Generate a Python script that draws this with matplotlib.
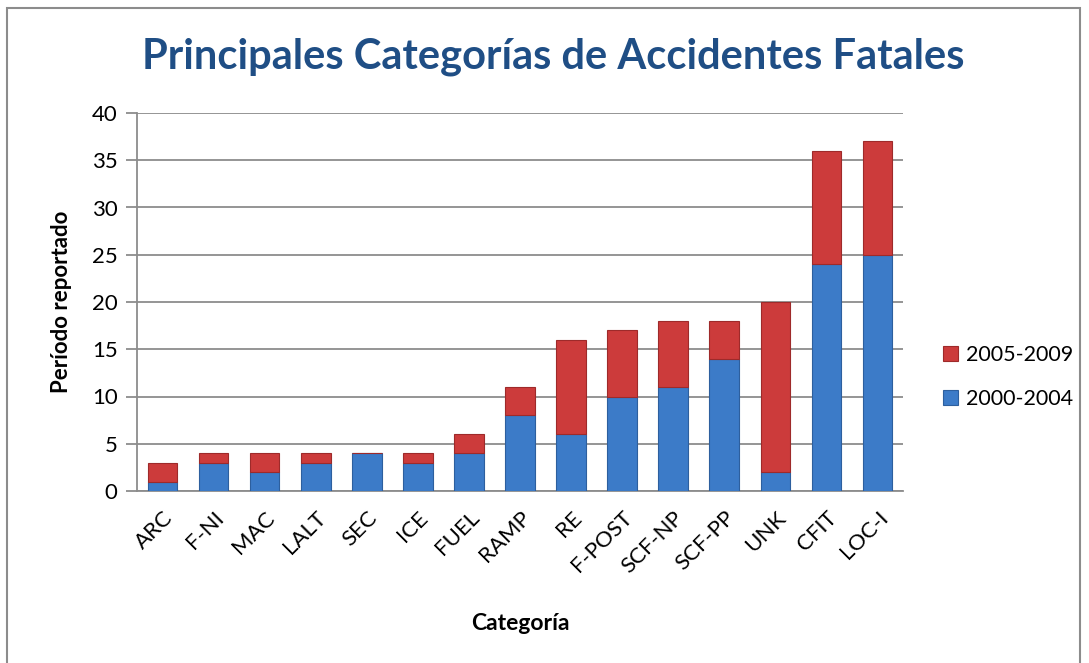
import matplotlib
matplotlib.use("Agg")
import matplotlib.pyplot as plt
from matplotlib.patches import Rectangle

plt.rcParams['font.family'] = ['Lato', 'DejaVu Sans']

# datos
categorias = ['ARC', 'F-NI', 'MAC', 'LALT', 'SEC', 'ICE', 'FUEL', 'RAMP', 'RE',
              'F-POST', 'SCF-NP', 'SCF-PP', 'UNK', 'CFIT', 'LOC-I']
p2000_2004 = [1, 3, 2, 3, 4, 3, 4, 8, 6, 10, 11, 14, 2, 24, 25]
p2005_2009 = [2, 1, 2, 1, 0, 1, 2, 3, 10, 7, 7, 4, 18, 12, 12]

azul = '#3c7bc8'
rojo = '#cc3b3b'

fig = plt.figure(figsize=(10.89, 6.63), dpi=100)
# marco gris alrededor del grafico
fig.patches.append(Rectangle((7 / 1089, -0.05), 1073 / 1089, 1.05 - 8 / 663,
                             transform=fig.transFigure, fill=False,
                             edgecolor='#8c8c8c', linewidth=1.5))

ax = fig.add_axes([137 / 1089, 1 - 491 / 663, 766 / 1089, 378 / 663])

x = range(len(categorias))
ax.bar(x, p2000_2004, width=0.58, color=azul, edgecolor='#2d5f9e',
       linewidth=0.8, label='2000-2004', zorder=3)
ax.bar(x, p2005_2009, width=0.58, bottom=p2000_2004, color=rojo,
       edgecolor='#9e2a2a', linewidth=0.8, label='2005-2009', zorder=3)

ax.set_xlim(-0.5, len(categorias) - 0.5)
ax.set_ylim(0, 40)
ax.set_yticks(range(0, 41, 5))
ax.grid(axis='y', color='#8c8c8c', linewidth=1.3, zorder=0)

for s in ['top', 'right']:
    ax.spines[s].set_visible(False)
ax.spines['left'].set_color('#8c8c8c')
ax.spines['bottom'].set_color('#8c8c8c')
ax.spines['left'].set_linewidth(1.3)
ax.spines['bottom'].set_linewidth(1.3)

ax.set_xticks(list(x))
ax.set_xticklabels(categorias, rotation=45, ha='right', rotation_mode='anchor')
ax.tick_params(axis='x', length=0, labelsize=16, pad=12)
ax.tick_params(axis='y', length=8, color='#8c8c8c', width=1.3, labelsize=16, pad=6)

ax.set_ylabel('Período reportado', fontsize=16, fontweight='bold', labelpad=14)
fig.text(520 / 1089, 1 - 624 / 663, 'Categoría', ha='center', va='center',
         fontsize=16.5, fontweight='bold')
fig.text(553 / 1089, 1 - 57 / 663, 'Principales Categorías de Accidentes Fatales',
         ha='center', va='center', fontsize=30, fontweight='bold', color='#1f4e85')

h, l = ax.get_legend_handles_labels()
fig.legend(h[::-1], l[::-1], loc='center left', bbox_to_anchor=(943 / 1089, 1 - 377 / 663),
           frameon=False, fontsize=15.5, handlelength=0.7, handleheight=0.7,
           labelspacing=1.1, handletextpad=0.35, borderpad=0, borderaxespad=0)

plt.savefig('out.png', dpi=100)
